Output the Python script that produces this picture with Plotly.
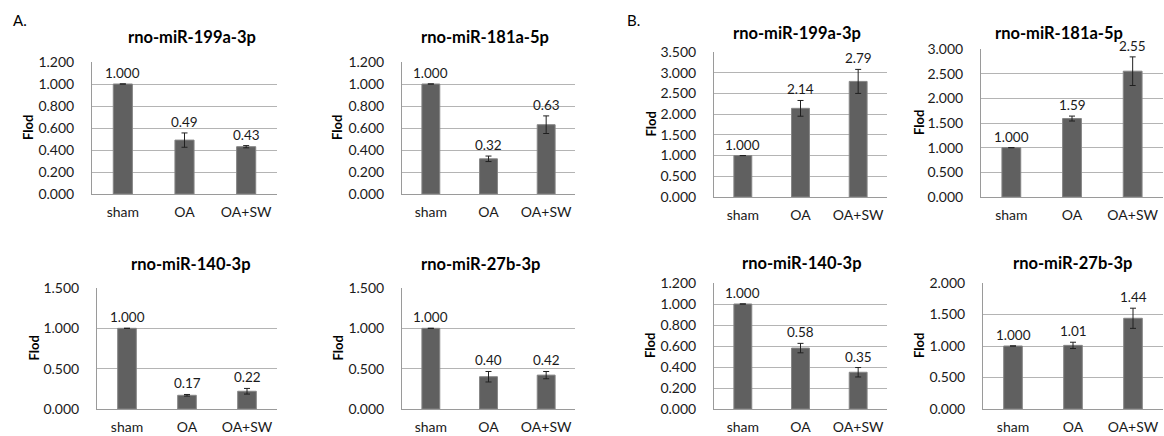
import plotly.graph_objects as go

W, H = 1164, 436

categories = ["sham", "OA", "OA+SW"]

titles = ["rno-miR-199a-3p", "rno-miR-181a-5p", "rno-miR-140-3p", "rno-miR-27b-3p",
          "rno-miR-199a-3p", "rno-miR-181a-5p", "rno-miR-140-3p", "rno-miR-27b-3p"]

a_199a_vals = [1.000, 0.49, 0.43]
a_199a_err = [0.0, 0.065, 0.01]
a_181a_vals = [1.000, 0.32, 0.63]
a_181a_err = [0.0, 0.025, 0.08]
a_140_vals = [1.000, 0.17, 0.22]
a_140_err = [0.0, 0.01, 0.035]
a_27b_vals = [1.000, 0.40, 0.42]
a_27b_err = [0.0, 0.065, 0.045]

b_199a_vals = [1.000, 2.14, 2.79]
b_199a_err = [0.0, 0.19, 0.29]
b_181a_vals = [1.000, 1.59, 2.55]
b_181a_err = [0.0, 0.05, 0.29]
b_140_vals = [1.000, 0.58, 0.35]
b_140_err = [0.0, 0.045, 0.045]
b_27b_vals = [1.000, 1.01, 1.44]
b_27b_err = [0.0, 0.05, 0.16]

value_labels = [
    ["1.000", "0.49", "0.43"], ["1.000", "0.32", "0.63"],
    ["1.000", "0.17", "0.22"], ["1.000", "0.40", "0.42"],
    ["1.000", "2.14", "2.79"], ["1.000", "1.59", "2.55"],
    ["1.000", "0.58", "0.35"], ["1.000", "1.01", "1.44"],
]

y_max = [1.2, 1.2, 1.5, 1.5, 3.5, 3.0, 1.2, 2.0]
y_step = [0.2, 0.2, 0.5, 0.5, 0.5, 0.5, 0.2, 0.5]

all_vals = [a_199a_vals, a_181a_vals, a_140_vals, a_27b_vals,
            b_199a_vals, b_181a_vals, b_140_vals, b_27b_vals]
all_errs = [a_199a_err, a_181a_err, a_140_err, a_27b_err,
            b_199a_err, b_181a_err, b_140_err, b_27b_err]

# plot boxes in pixels: (left, right, top, bottom)
boxes = [
    (92, 277, 62, 194), (402, 575, 62, 194),
    (97, 277, 288, 409), (402, 575, 288, 409),
    (714, 887, 52, 197), (981, 1163, 49, 197),
    (714, 887, 283, 409), (983, 1163, 283, 409),
]
title_pos = [(192, 37), (485, 37), (191, 264), (481, 264),
             (797, 33), (1059, 33), (802, 263), (1072, 263)]
ytitle_x = [28, 337, 33, 337, 650, 919, 650, 919]

FONT = "Lato"
BAR = "#606060"
GRID = "#b4b4b4"
TXT = "#1a1a1a"

fig = go.Figure()
layout = dict(
    width=W, height=H, margin=dict(l=0, r=0, t=0, b=0, autoexpand=False),
    paper_bgcolor="white", plot_bgcolor="white",
    showlegend=False, bargap=0.69,
    font=dict(family=FONT, size=14, color=TXT),
)
annotations = []

for i in range(8):
    n = i + 1
    xa = "x" if n == 1 else f"x{n}"
    ya = "y" if n == 1 else f"y{n}"
    l, r, t, b = boxes[i]
    fig.add_trace(go.Bar(
        x=categories, y=all_vals[i], xaxis=xa, yaxis=ya,
        marker=dict(color=BAR, line=dict(color="#858585", width=1)),
        error_y=dict(type="data", array=all_errs[i], visible=True,
                     color="#202020", thickness=1, width=3),
        hoverinfo="skip",
    ))
    ticks = [round(k * y_step[i], 3) for k in range(int(round(y_max[i] / y_step[i])) + 1)]
    layout[f"xaxis{n}"] = dict(
        domain=[l / W, r / W], anchor=ya, type="category", automargin=False,
        showline=True, linecolor="#9a9a9a", linewidth=1,
        ticks="outside", ticklen=5, tickcolor="rgba(0,0,0,0)",
        tickfont=dict(family=FONT, size=14, color=TXT),
        showgrid=False, fixedrange=True,
    )
    layout[f"yaxis{n}"] = dict(
        domain=[1 - b / H, 1 - t / H], anchor=xa, automargin=False,
        range=[0, y_max[i]], tickvals=ticks,
        ticktext=[f"{v:.3f}" for v in ticks],
        showgrid=True, gridcolor=GRID, gridwidth=1,
        showline=True, linecolor="#9a9a9a", linewidth=1,
        ticks="outside", ticklen=14, tickcolor="rgba(0,0,0,0)",
        tickfont=dict(family=FONT, size=14, color=TXT),
        zeroline=False, fixedrange=True,
    )
    # data labels
    for c, v, e, s in zip(categories, all_vals[i], all_errs[i], value_labels[i]):
        annotations.append(dict(
            x=c, y=v + e, xref=xa, yref=ya, text=s, showarrow=False,
            yanchor="bottom", yshift=1,
            font=dict(family=FONT, size=13.5, color=TXT),
        ))
    tx, ty = title_pos[i]
    annotations.append(dict(
        x=tx / W, y=1 - ty / H, xref="paper", yref="paper",
        text=f"<b>{titles[i]}</b>", showarrow=False,
        xanchor="center", yanchor="middle",
        font=dict(family=FONT, size=16.5, color="#000000"),
    ))
    annotations.append(dict(
        x=ytitle_x[i] / W, y=1 - ((t + b) / 2) / H, xref="paper", yref="paper",
        text="<b>Flod</b>", showarrow=False, textangle=-90,
        xanchor="center", yanchor="middle",
        font=dict(family=FONT, size=13, color="#000000"),
    ))

annotations.append(dict(x=20 / W, y=1 - 20 / H, xref="paper", yref="paper", text="A.",
                        showarrow=False, xanchor="center", yanchor="middle",
                        font=dict(family=FONT, size=15, color="#000000")))
annotations.append(dict(x=633 / W, y=1 - 20 / H, xref="paper", yref="paper", text="B.",
                        showarrow=False, xanchor="center", yanchor="middle",
                        font=dict(family=FONT, size=15, color="#000000")))

layout["annotations"] = annotations
fig.update_layout(**layout)
fig.write_html("out.html", config={"displayModeBar": False},
               post_script="document.body.style.margin='0';document.body.style.padding='0';")
